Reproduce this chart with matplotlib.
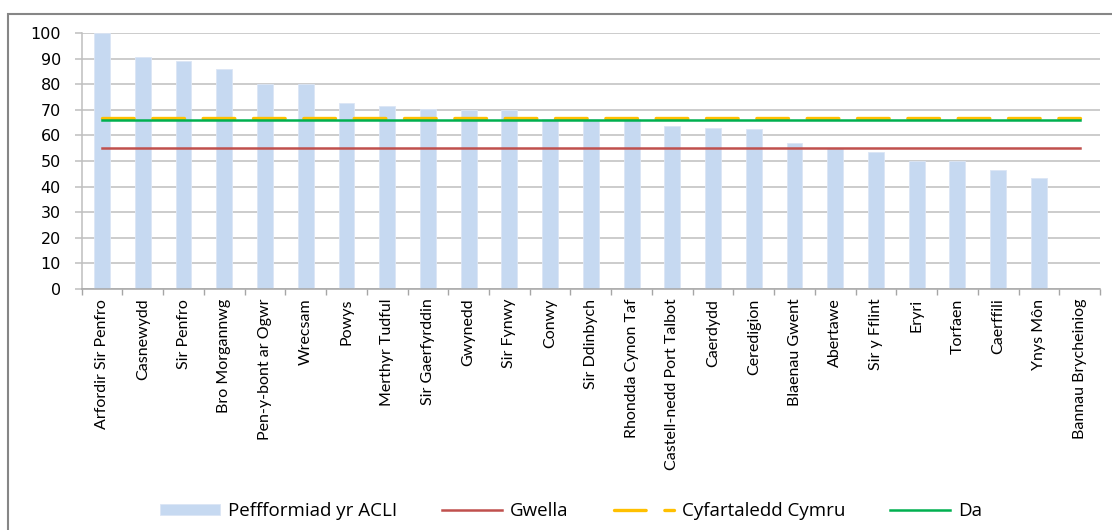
import matplotlib
matplotlib.use("Agg")
import matplotlib.pyplot as plt
import numpy as np
from matplotlib.patches import Rectangle

categories = ["Arfordir Sir Penfro", "Casnewydd", "Sir Penfro", "Bro Morgannwg",
              "Pen-y-bont ar Ogwr", "Wrecsam", "Powys", "Merthyr Tudful",
              "Sir Gaerfyrddin", "Gwynedd", "Sir Fynwy", "Conwy", "Sir Ddinbych",
              "Rhondda Cynon Taf", "Castell-nedd Port Talbot", "Caerdydd", "Ceredigion",
              "Blaenau Gwent", "Abertawe", "Sir y Fflint", "Eryri", "Torfaen",
              "Caerffili", "Ynys Môn", "Bannau Brycheiniog"]
perfformiad = [100, 90.5, 88.9, 85.8, 80, 80, 72.5, 71.3, 70.5, 70.1, 69.9, 66.5,
               66.3, 66.4, 63.5, 62.8, 62.4, 57.0, 55.0, 53.6, 50.0, 50.0, 46.5, 43.4, 0]
gwella = [55] * 25
cyfartaledd = [66.8] * 25
da = [66] * 25
yticks = list(range(0, 101, 10))

fig = plt.figure(figsize=(11.12, 5.30), dpi=100)
# outer chart border
fig.patches.append(Rectangle((8 / 1112, -0.05), 1.2, 1 - 14 / 530 + 0.05,
                             transform=fig.transFigure, fill=False,
                             edgecolor="#868686", linewidth=1.5, zorder=0))

ax = fig.add_axes([81.7 / 1112, 1 - 289 / 530, (1100 - 81.7) / 1112, (289 - 33) / 530])
x = np.arange(len(categories))
h_bar = ax.bar(x, perfformiad, width=0.39, color="#c6d9f1", edgecolor="#dbe6f5",
               linewidth=0.6, zorder=2, label="Peffformiad yr ACLI")
h_g, = ax.plot(x, gwella, color="#c0504d", linewidth=1.8, zorder=3, label="Gwella")
h_c, = ax.plot(x, cyfartaledd, color="#ffc000", linewidth=2.4, zorder=3,
               dashes=(9.5, 5.6), dash_capstyle="round", label="Cyfartaledd Cymru")
h_d, = ax.plot(x, da, color="#00b050", linewidth=1.8, zorder=4, label="Da")

ax.set_xlim(-0.5, len(categories) - 0.5)
ax.set_ylim(0, 100)
ax.set_yticks(yticks)
ax.set_yticklabels([str(v) for v in yticks], fontfamily="DejaVu Sans", fontsize=11.5)
ax.yaxis.grid(True, color="#bfbfbf", linewidth=1.1, zorder=0)
ax.set_axisbelow(True)
ax.tick_params(axis="y", length=5, color="#bfbfbf", width=1.1, pad=10)

ax.set_xticks(x)
ax.set_xticklabels(categories, rotation=90, fontfamily="Lato", fontsize=11.5)
ax.set_xticks(np.arange(-0.5, len(categories)), minor=True)
ax.tick_params(axis="x", which="major", length=0, pad=7)
ax.tick_params(axis="x", which="minor", length=4.5, color="#a6a6a6", width=1)

for s in ["top", "right"]:
    ax.spines[s].set_visible(False)
ax.spines["left"].set_color("#bfbfbf")
ax.spines["bottom"].set_color("#a6a6a6")
ax.spines["left"].set_linewidth(1.1)
ax.spines["bottom"].set_linewidth(1.1)

leg = fig.legend([h_bar, h_g, h_c, h_d],
                 ["Peffformiad yr ACLI", "Gwella", "Cyfartaledd Cymru", "Da"],
                 loc="center", bbox_to_anchor=(571 / 1112, 1 - 511 / 530), ncol=4,
                 frameon=False, prop={"family": "Open Sans", "size": 13.5},
                 handlelength=3.2, handleheight=0.53, columnspacing=2.4,
                 handletextpad=0.43)

fig.savefig("out.png", dpi=100)
